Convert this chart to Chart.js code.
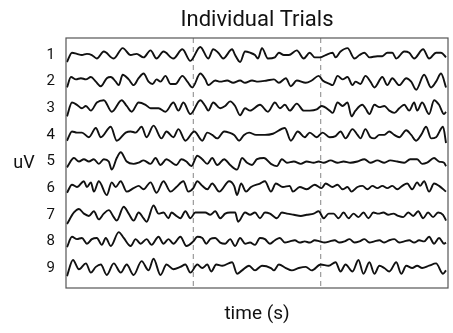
<!DOCTYPE html>
<html>
<head>
<meta charset="utf-8">
<script src="https://cdn.jsdelivr.net/npm/chart.js@4/dist/chart.umd.min.js"></script>
<style>
  html, body { margin: 0; padding: 0; background: #ffffff; }
  #wrap { width: 453px; height: 333px; }
</style>
</head>
<body>
<div id="wrap"><canvas id="c" width="453" height="333"></canvas></div>
<script>
// ---- data ----
const chartTitle = 'Individual Trials';
const xLabel = 'time (s)';
const yLabel = 'uV';
const trialLabels = [1, 2, 3, 4, 5, 6, 7, 8, 9];
const eventTimes = [0, 1];           // dashed markers (s)
const tStart = -1, tEnd = 2;         // epoch window (s)
const sampleRate = 128;              // Hz; points are [sample index, uV]
const rowSpacing = 23;               // uV between stacked trials

const trial1 = [[1,-6],[6,2],[11,1],[16,0],[21,1],[26,0],[31,-3],[38,3],[48,-3],[57,6],[65,0],[71,1],[78,-2],[85,4],[91,-3],[98,3],[108,-3],[117,5],[125,-5],[135,7],[143,-3],[148,5],[153,2],[158,-3],[167,5],[170,0],[175,-6],[180,3],[185,2],[190,0],[193,-3],[197,6],[203,-3],[210,-2],[214,2],[219,0],[224,0],[232,4],[239,-3],[245,2],[250,-2],[256,-2],[261,0],[268,2],[271,-2],[276,3],[283,6],[290,-3],[295,0],[300,2],[305,-2],[313,-1],[318,-1],[323,2],[328,2],[332,-3],[340,3],[345,2],[350,-3],[359,5],[365,-3],[372,2],[377,2],[382,-2]];
const trial2 = [[1,-5],[5,4],[10,2],[15,3],[20,2],[25,4],[30,0],[35,-4],[41,3],[45,4],[50,0],[53,-3],[57,6],[63,2],[68,-3],[73,3],[78,7],[83,0],[87,-2],[91,2],[95,0],[100,5],[105,-2],[110,-2],[117,5],[122,0],[127,-5],[135,7],[140,2],[143,-3],[150,1],[155,0],[162,1],[168,-1],[175,1],[180,-1],[187,1],[193,0],[202,1],[209,2],[214,-1],[221,3],[226,-4],[232,1],[241,-1],[247,1],[254,5],[258,1],[265,-2],[268,-3],[273,5],[278,2],[283,4],[288,-3],[291,0],[296,-2],[301,5],[306,0],[310,-5],[318,4],[323,-3],[328,3],[335,-3],[342,3],[347,0],[352,-7],[360,6],[367,-5],[372,0],[377,7],[382,-5]];
const trial3 = [[1,-7],[6,5],[11,3],[16,0],[20,2],[25,-2],[31,5],[38,7],[46,-3],[56,7],[61,2],[66,-3],[73,5],[80,3],[85,0],[93,0],[100,-3],[108,5],[113,-2],[118,5],[125,-5],[135,7],[140,2],[143,-2],[148,5],[155,0],[160,2],[165,6],[170,2],[175,-6],[180,0],[185,-2],[195,3],[203,-3],[210,5],[215,0],[220,3],[225,-2],[232,4],[239,-2],[245,-2],[252,-1],[257,2],[265,-2],[268,-4],[273,5],[278,2],[283,5],[287,-7],[291,-2],[298,3],[301,0],[305,-5],[310,3],[315,1],[320,2],[325,-2],[330,-4],[335,0],[340,3],[345,-2],[350,5],[353,-2],[358,5],[365,-5],[370,7],[375,3],[380,-5],[382,-3]];
const trial4 = [[1,-5],[6,3],[11,2],[16,2],[23,-2],[30,6],[35,-2],[45,7],[51,-5],[60,2],[65,3],[70,2],[76,7],[81,-2],[88,8],[96,-3],[101,3],[108,-2],[113,5],[120,-5],[129,3],[137,-5],[142,2],[147,0],[152,-3],[159,3],[164,2],[169,0],[174,-5],[179,0],[184,2],[191,0],[200,0],[208,1],[220,6],[226,-5],[233,3],[240,-2],[245,2],[252,-2],[258,2],[265,-2],[271,-1],[276,3],[281,-3],[288,5],[293,0],[296,-3],[301,5],[306,-2],[310,-3],[315,0],[320,0],[325,3],[330,0],[335,-2],[342,4],[347,0],[352,-5],[357,0],[362,7],[367,-3],[372,-2],[379,7],[382,-7]];
const trial5 = [[1,-5],[8,3],[13,0],[18,2],[23,0],[28,2],[33,-2],[38,2],[43,0],[46,-7],[51,3],[55,8],[61,0],[68,-2],[73,-1],[78,1],[85,-2],[90,3],[95,-3],[101,2],[105,0],[111,-3],[116,2],[121,0],[126,-4],[132,5],[137,2],[142,-2],[147,3],[152,-3],[159,2],[165,-3],[172,-7],[177,3],[182,-1],[187,-3],[192,2],[199,3],[206,-2],[212,-4],[217,2],[222,-1],[229,0],[236,-2],[242,0],[249,-1],[254,0],[259,-1],[266,1],[273,-1],[279,0],[286,-1],[293,0],[300,2],[306,-1],[313,1],[320,-1],[326,1],[333,0],[340,-1],[346,2],[353,2],[358,-2],[363,-1],[370,3],[375,0],[380,-1],[382,-4]];
const trial6 = [[1,-4],[6,3],[11,1],[18,6],[21,1],[25,5],[28,-3],[33,6],[41,-6],[46,5],[50,1],[55,6],[61,-3],[68,0],[73,2],[78,-1],[85,5],[91,-4],[98,6],[105,-3],[111,1],[118,6],[123,-3],[128,0],[132,6],[137,2],[142,-1],[147,4],[154,-3],[164,6],[169,2],[172,-6],[176,4],[181,-3],[186,1],[195,4],[200,6],[206,-3],[211,4],[218,1],[225,2],[228,-3],[235,1],[242,-1],[250,3],[257,0],[261,4],[268,1],[273,3],[278,-1],[283,1],[287,-3],[293,1],[298,2],[303,-1],[308,2],[313,0],[318,2],[323,0],[328,2],[333,-1],[338,2],[343,4],[348,-1],[353,5],[356,2],[360,6],[365,-3],[370,4],[375,2],[382,-3]];
const trial7 = [[1,-8],[8,2],[13,5],[18,1],[23,-1],[28,3],[33,-4],[38,1],[43,4],[48,-2],[51,-5],[58,7],[63,1],[68,-5],[73,2],[78,-3],[81,-6],[88,8],[93,1],[98,2],[103,-3],[106,2],[111,-1],[115,-3],[120,3],[125,-3],[130,2],[135,2],[140,2],[145,0],[150,3],[155,-3],[160,1],[165,2],[170,2],[173,-6],[180,2],[185,0],[190,2],[195,-3],[200,2],[205,1],[212,-3],[217,2],[222,1],[229,0],[236,-1],[242,0],[249,1],[254,3],[259,-3],[264,1],[269,1],[274,-3],[279,2],[284,-3],[289,1],[294,-2],[299,2],[304,-3],[309,2],[314,1],[319,2],[324,0],[329,1],[334,-1],[339,-2],[344,2],[349,-1],[354,3],[359,-3],[364,2],[369,-2],[374,2],[379,0],[382,-5]];
const trial8 = [[1,-5],[6,4],[11,2],[16,3],[21,-2],[26,2],[31,3],[36,-3],[40,3],[45,-4],[53,8],[58,3],[65,-4],[70,2],[75,-2],[81,2],[86,-3],[93,4],[98,-2],[103,2],[108,-2],[115,4],[121,-4],[128,0],[132,4],[137,3],[141,-2],[145,2],[150,3],[155,-1],[160,-2],[165,2],[170,-4],[175,3],[180,-2],[185,-1],[190,-3],[195,3],[200,2],[205,-2],[210,1],[215,3],[220,-1],[225,0],[230,1],[235,-1],[240,0],[245,-1],[250,1],[255,0],[260,-1],[265,0],[270,1],[275,-1],[280,0],[285,2],[290,-1],[295,0],[300,2],[305,-1],[310,0],[315,1],[320,-1],[325,1],[330,2],[335,-1],[340,0],[345,1],[350,-1],[355,1],[360,0],[365,4],[370,-2],[375,3],[380,-2],[382,-1]];
const trial9 = [[1,-7],[7,7],[13,-1],[20,4],[25,-4],[30,1],[35,3],[41,-6],[48,4],[55,-4],[61,3],[68,-6],[76,6],[83,-2],[88,8],[95,-6],[101,3],[108,-1],[115,1],[120,3],[125,-4],[132,3],[137,0],[142,3],[146,-3],[151,3],[157,2],[167,5],[172,-5],[177,-2],[184,2],[190,-2],[197,2],[206,0],[209,-2],[214,3],[221,0],[227,-2],[234,0],[241,1],[247,-2],[256,3],[264,2],[271,5],[276,-3],[281,3],[288,-3],[294,7],[299,-5],[305,5],[310,-5],[315,2],[320,0],[325,-3],[332,5],[337,-5],[342,2],[348,0],[353,2],[358,0],[365,2],[372,4],[379,-5],[382,-2]];

const trials = [trial1, trial2, trial3, trial4, trial5, trial6, trial7, trial8, trial9];
const yMin = 0.36, yMax = 9.75;

const FONT = 'Roboto';
const datasets = trials.map((pts, k) => ({
  label: 'Trial ' + trialLabels[k],
  data: pts.map(([n, v]) => ({ x: tStart + n / sampleRate, y: trialLabels[k] - v / rowSpacing })),
  borderColor: '#111111',
  borderWidth: 1.9,
  pointRadius: 0,
  cubicInterpolationMode: 'monotone',
  fill: false
}));
eventTimes.forEach(t => {
  datasets.push({
    label: 'event',
    data: [{ x: t, y: yMin }, { x: t, y: yMax }],
    borderColor: '#9a9a9a',
    borderWidth: 1.2,
    borderDash: [5, 4],
    pointRadius: 0,
    tension: 0
  });
});

const framePlugin = {
  id: 'frame',
  afterDraw(chart) {
    const { ctx, chartArea: a } = chart;
    ctx.save();
    ctx.strokeStyle = '#555555';
    ctx.lineWidth = 1.2;
    ctx.strokeRect(a.left, a.top, a.right - a.left, a.bottom - a.top);
    ctx.fillStyle = '#111111';
    ctx.font = '18px ' + FONT;
    ctx.textAlign = 'center';
    ctx.textBaseline = 'middle';
    ctx.fillText(yLabel, 24, (a.top + a.bottom) / 2);
    ctx.restore();
  }
};

new Chart(document.getElementById('c'), {
  type: 'line',
  data: { datasets },
  options: {
    responsive: false,
    animation: false,
    events: [],
    layout: { padding: { left: 0, right: 5, top: 0, bottom: 0 } },
    plugins: {
      legend: { display: false },
      tooltip: { enabled: false },
      title: {
        display: true,
        text: chartTitle,
        fullSize: false,
        color: '#111111',
        font: { family: FONT, size: 22, weight: 'normal' },
        padding: { top: 7, bottom: 4.6 }
      }
    },
    scales: {
      x: {
        type: 'linear',
        position: 'bottom',
        min: tStart,
        max: tEnd,
        grid: { display: false, drawTicks: false },
        border: { display: false },
        ticks: { display: false },
        title: {
          display: true,
          text: xLabel,
          color: '#111111',
          font: { family: FONT, size: 19, weight: 'normal' },
          padding: { top: 0, bottom: 7 }
        },
        afterFit(s) { s.height = 45; }
      },
      y: {
        type: 'linear',
        position: 'left',
        reverse: true,
        min: yMin,
        max: yMax,
        grid: { display: false, drawTicks: false },
        border: { display: false },
        ticks: {
          color: '#111111',
          font: { family: FONT, size: 15 },
          padding: 11,
          callback: v => String(v)
        },
        afterBuildTicks(s) { s.ticks = trialLabels.map(v => ({ value: v })); },
        afterFit(s) { s.width = 66; }
      }
    }
  },
  plugins: [framePlugin]
});
</script>
</body>
</html>
